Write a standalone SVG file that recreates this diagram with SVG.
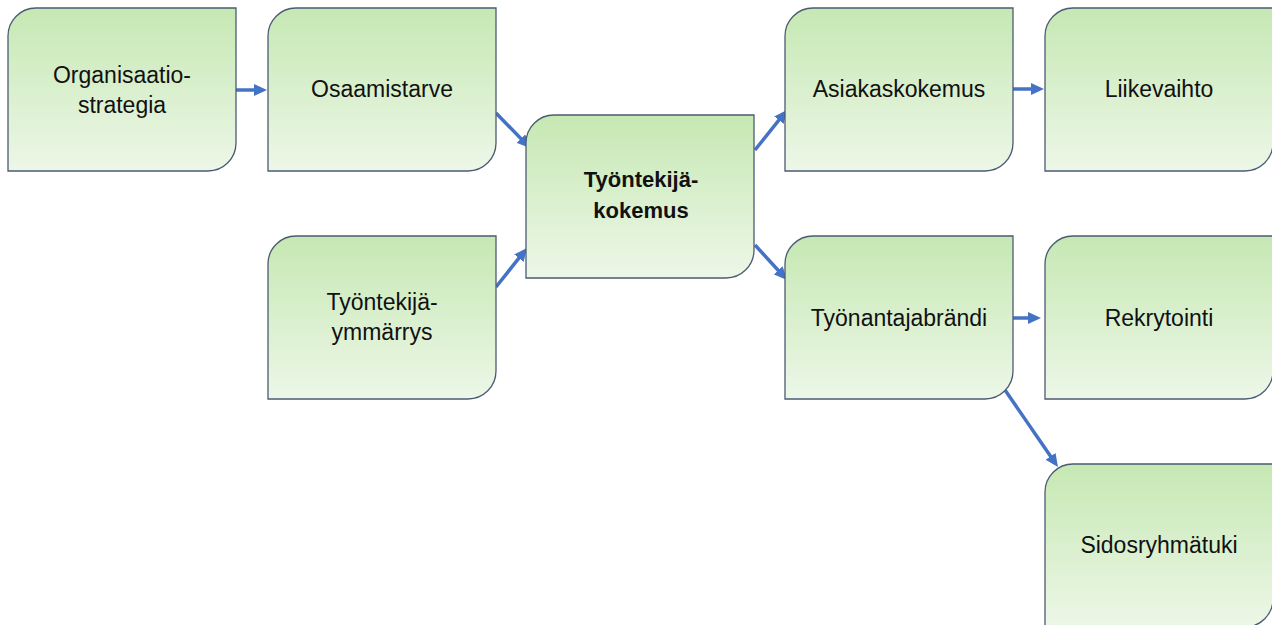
<svg xmlns="http://www.w3.org/2000/svg" xmlns:xlink="http://www.w3.org/1999/xlink" width="1272" height="625" viewBox="0 0 1272 625">
  <style>
    .box { fill: url(#boxFill); stroke: #4b5b73; stroke-width: 1.3; }
    .lbl { font-family: "Liberation Sans", Arial, sans-serif; font-size: 23px; fill: #111; text-anchor: middle; }
    .lbl-b { font-family: "Liberation Sans", Arial, sans-serif; font-size: 22px; font-weight: bold; fill: #111; text-anchor: middle; }
    .flow { stroke: #4472c4; stroke-width: 3.5; fill: none; marker-end: url(#arrowHead); }
  </style>
  <defs>
    <linearGradient id="boxFill" x1="0" y1="0" x2="0" y2="1">
      <stop offset="0" stop-color="#c6e8b3"/>
      <stop offset="1" stop-color="#edf7e8"/>
    </linearGradient>
    <!-- rectangle with rounded top-left and bottom-right corners -->
    <path id="card" d="M28,0 H228 V135 A28 28 0 0 1 200,163 H0 V28 A28 28 0 0 1 28,0 Z"/>
    <marker id="arrowHead" markerUnits="userSpaceOnUse" markerWidth="13" markerHeight="12" viewBox="0 0 13 12" refX="9" refY="6" orient="auto">
      <path d="M0,0 L13,6 L0,12 Z" fill="#4472c4"/>
    </marker>
  </defs>

  <rect width="1272" height="625" fill="#ffffff"/>

  <g id="connectors">
    <line class="flow" x1="236" y1="90" x2="263" y2="90"/>
    <line class="flow" x1="496" y1="113" x2="527.2" y2="145.1"/>
    <line class="flow" x1="496" y1="287" x2="524.5" y2="251.1"/>
    <line class="flow" x1="755" y1="150" x2="784.5" y2="113.1"/>
    <line class="flow" x1="755" y1="245" x2="784.3" y2="277"/>
    <line class="flow" x1="1013" y1="89" x2="1040" y2="89"/>
    <line class="flow" x1="1010" y1="318" x2="1037" y2="318"/>
    <line class="flow" x1="1005" y1="390" x2="1055.7" y2="463.7"/>
  </g>

  <g id="organisaatiostrategia" transform="translate(8,8)">
    <use xlink:href="#card" class="box"/>
    <text class="lbl" x="114" y="75">Organisaatio-</text>
    <text class="lbl" x="114" y="105">strategia</text>
  </g>

  <g id="osaamistarve" transform="translate(268,8)">
    <use xlink:href="#card" class="box"/>
    <text class="lbl" x="114" y="89">Osaamistarve</text>
  </g>

  <g id="tyontekijaymmarrys" transform="translate(268,236)">
    <use xlink:href="#card" class="box"/>
    <text class="lbl" x="114" y="74">Työntekijä-</text>
    <text class="lbl" x="114" y="104">ymmärrys</text>
  </g>

  <g id="tyontekijakokemus" transform="translate(526,115)">
    <use xlink:href="#card" class="box"/>
    <text class="lbl-b" x="115" y="72">Työntekijä-</text>
    <text class="lbl-b" x="115" y="103">kokemus</text>
  </g>

  <g id="asiakaskokemus" transform="translate(785,8)">
    <use xlink:href="#card" class="box"/>
    <text class="lbl" x="114" y="89">Asiakaskokemus</text>
  </g>

  <g id="liikevaihto" transform="translate(1045,8)">
    <use xlink:href="#card" class="box"/>
    <text class="lbl" x="114" y="89">Liikevaihto</text>
  </g>

  <g id="tyonantajabrandi" transform="translate(785,236)">
    <use xlink:href="#card" class="box"/>
    <text class="lbl" x="114" y="90">Työnantajabrändi</text>
  </g>

  <g id="rekrytointi" transform="translate(1045,236)">
    <use xlink:href="#card" class="box"/>
    <text class="lbl" x="114" y="90">Rekrytointi</text>
  </g>

  <g id="sidosryhmatuki" transform="translate(1045,464)">
    <use xlink:href="#card" class="box"/>
    <text class="lbl" x="114" y="89">Sidosryhmätuki</text>
  </g>
</svg>
